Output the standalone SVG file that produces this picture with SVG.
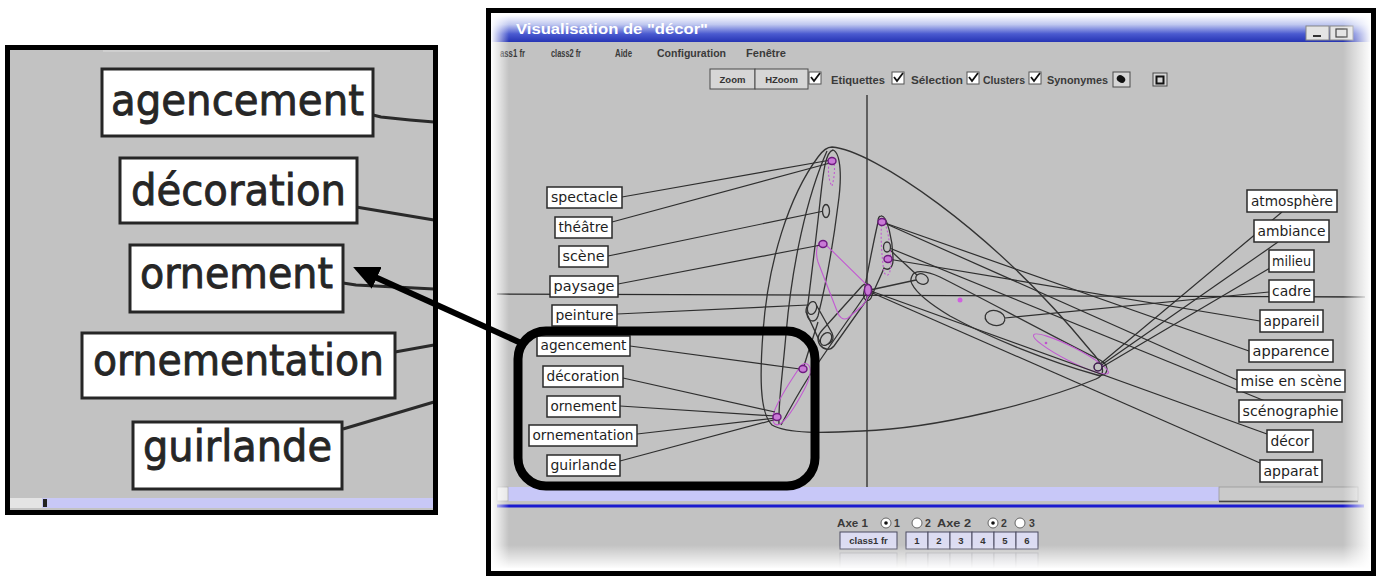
<svg xmlns="http://www.w3.org/2000/svg" width="1381" height="576" viewBox="0 0 1381 576">
<defs>
<style>
.bg{fill:#c2c2c2}
.lb{fill:#fff;stroke:#2a2a2a;stroke-width:1.5}
.lt{font-family:"DejaVu Sans","Noto Sans",sans-serif;font-size:13.5px;fill:#1e1e1e;text-anchor:middle}
.cn{stroke:#2e2e2e;stroke-width:1.2;fill:none}
.hl{stroke:#333;stroke-width:1.3;fill:none}
.mg{stroke:#c25ad2;stroke-width:1.1;fill:none}
.mgd{stroke:#c25ad2;stroke-width:1.1;fill:none;stroke-dasharray:2 2}
.nm{fill:#c97ad6;stroke:#6e1a80;stroke-width:1.4}
.nw{fill:#c2c2c2;stroke:#333;stroke-width:1.3}
.ib{fill:#fff;stroke:#262626;stroke-width:3}
.it{font-family:"DejaVu Sans","Noto Sans",sans-serif;font-size:43px;fill:#262626;stroke:#262626;stroke-width:0.9;text-anchor:middle}
.ic{stroke:#2a2a2a;stroke-width:3;fill:none}
.mn{font-family:"Liberation Sans",Arial,sans-serif;font-size:10.5px;font-weight:bold;fill:#3a3a3a}
.tb{fill:#d6d6d6;stroke:#4a4a4a;stroke-width:1}
.bt{font-family:"Liberation Sans",Arial,sans-serif;font-size:9.5px;font-weight:bold;fill:#333;text-anchor:middle}
.ck{fill:#fff;stroke:#555;stroke-width:1}
.cm{fill:none;stroke:#111;stroke-width:1.8}
.nb{fill:#dcdcf2;stroke:#4a4a60;stroke-width:1}
.ax{stroke:#2a2a2a;stroke-width:1.3}
.rd{fill:#fff;stroke:#666;stroke-width:1}
</style>
<linearGradient id="gTitle" x1="0" y1="0" x2="0" y2="1">
<stop offset="0" stop-color="#ffffff"/>
<stop offset="0.35" stop-color="#c0c8f0"/>
<stop offset="0.7" stop-color="#4a5ad0"/>
<stop offset="1" stop-color="#2634b4"/>
</linearGradient>
<linearGradient id="fadeL" x1="0" y1="0" x2="1" y2="0">
<stop offset="0" stop-color="#fff" stop-opacity="1"/>
<stop offset="1" stop-color="#fff" stop-opacity="0"/>
</linearGradient>
<linearGradient id="fadeR" x1="0" y1="0" x2="1" y2="0">
<stop offset="0" stop-color="#fff" stop-opacity="0"/>
<stop offset="1" stop-color="#fff" stop-opacity="1"/>
</linearGradient>
<linearGradient id="fadeB" x1="0" y1="0" x2="0" y2="1">
<stop offset="0" stop-color="#fff" stop-opacity="0"/>
<stop offset="1" stop-color="#fff" stop-opacity="1"/>
</linearGradient>
<marker id="ah" markerUnits="userSpaceOnUse" markerWidth="26" markerHeight="24" viewBox="0 0 26 24" refX="2" refY="12" orient="auto">
<path d="M0,0 L26,12 L0,24 Z" fill="#000"/>
</marker>
</defs>
<rect width="1381" height="576" fill="#fff"/>

<!-- ============ INSET (zoom) ============ -->
<g id="inset">
<rect x="7.5" y="47.5" width="428" height="465" class="bg"/>
<line x1="103" y1="51" x2="330" y2="51" stroke="#cfcfcf" stroke-width="2"/>
<g id="inset-connectors">
<path class="ic" d="M373,115 L381,117 L410,120 L434,122"/>
<path class="ic" d="M356,207 L434,220"/>
<path class="ic" d="M343,283 L356,285 L434,289"/>
<path class="ic" d="M395,352 L434,345"/>
<path class="ic" d="M343,429 L434,402"/>
</g>
<g id="inset-agencement"><rect class="ib" x="102" y="69" width="271" height="67"/><text class="it" x="237.5" y="115" textLength="253" lengthAdjust="spacingAndGlyphs">agencement</text></g>
<g id="inset-decoration"><rect class="ib" x="120" y="158" width="237" height="65"/><text class="it" x="238.5" y="205" textLength="215" lengthAdjust="spacingAndGlyphs">décoration</text></g>
<g id="inset-ornement"><rect class="ib" x="130" y="245" width="213" height="67"/><text class="it" x="236.5" y="288" textLength="193" lengthAdjust="spacingAndGlyphs">ornement</text></g>
<g id="inset-ornementation"><rect class="ib" x="82" y="333" width="313" height="65"/><text class="it" x="238.5" y="375" textLength="291" lengthAdjust="spacingAndGlyphs">ornementation</text></g>
<g id="inset-guirlande"><rect class="ib" x="133" y="422" width="209" height="67"/><text class="it" x="237.5" y="461" textLength="189" lengthAdjust="spacingAndGlyphs">guirlande</text></g>
<rect x="10" y="498" width="426" height="10" fill="#c8c8f6"/>
<rect x="10" y="498" width="32" height="10" fill="#e4e4e4"/>
<rect x="43" y="499" width="4" height="8" fill="#222"/>
<rect x="7.5" y="47.5" width="428" height="465" fill="none" stroke="#000" stroke-width="5"/>
</g>

<!-- ============ WINDOW ============ -->
<g id="window">
<rect x="491" y="42" width="879" height="530" class="bg"/>
<rect x="491" y="15" width="879" height="27" fill="url(#gTitle)"/>
<text x="516" y="34" font-family="Liberation Sans, Arial, sans-serif" font-size="14" font-weight="bold" fill="#fff" textLength="192" lengthAdjust="spacingAndGlyphs">Visualisation de "décor"</text>
<g id="winbtns">
<rect x="1306" y="26" width="23" height="14" fill="#e4e4e4" stroke="#888"/>
<line x1="1313" y1="36" x2="1321" y2="36" stroke="#333" stroke-width="2"/>
<rect x="1330" y="26" width="23" height="14" fill="#e4e4e4" stroke="#888"/>
<rect x="1336" y="29" width="11" height="8" fill="none" stroke="#444" stroke-width="1.2"/>
</g>
<g id="menu">
<text class="mn" x="500" y="57" textLength="25" lengthAdjust="spacingAndGlyphs">ass1 fr</text>
<text class="mn" x="551" y="57" textLength="30" lengthAdjust="spacingAndGlyphs">class2 fr</text>
<text class="mn" x="615" y="57" textLength="17" lengthAdjust="spacingAndGlyphs">Aide</text>
<text class="mn" x="657" y="57" textLength="69" lengthAdjust="spacingAndGlyphs">Configuration</text>
<text class="mn" x="746" y="57" textLength="40" lengthAdjust="spacingAndGlyphs">Fenêtre</text>
</g>
<g id="toolbar">
<rect class="tb" x="710" y="69" width="45" height="20"/>
<text class="bt" x="732.5" y="83">Zoom</text>
<rect class="tb" x="755" y="69" width="53" height="20"/>
<text class="bt" x="781.5" y="83">HZoom</text>
<rect class="ck" x="809" y="72" width="12" height="12"/><path class="cm" d="M811,77 L814,81 L820,73"/>
<text class="mn" x="831" y="84" textLength="54" lengthAdjust="spacingAndGlyphs">Etiquettes</text>
<rect class="ck" x="892" y="72" width="12" height="12"/><path class="cm" d="M894,77 L897,81 L903,73"/>
<text class="mn" x="911" y="84" textLength="52" lengthAdjust="spacingAndGlyphs">Sélection</text>
<rect class="ck" x="967" y="72" width="12" height="12"/><path class="cm" d="M969,77 L972,81 L978,73"/>
<text class="mn" x="983" y="84" textLength="42" lengthAdjust="spacingAndGlyphs">Clusters</text>
<rect class="ck" x="1029" y="72" width="12" height="12"/><path class="cm" d="M1031,77 L1034,81 L1040,73"/>
<text class="mn" x="1047" y="84" textLength="61" lengthAdjust="spacingAndGlyphs">Synonymes</text>
<rect class="tb" x="1113" y="72" width="17" height="15"/>
<ellipse cx="1121" cy="79" rx="4.5" ry="3.5" fill="#111" transform="rotate(35 1121 79)"/>
<rect class="tb" x="1153" y="73" width="14" height="13"/>
<rect x="1156.5" y="76.5" width="7" height="7" fill="none" stroke="#111" stroke-width="2"/>
</g>

<!-- plot axes -->
<g id="axes">
<line class="ax" x1="497" y1="294" x2="1365" y2="297"/>
<line class="ax" x1="867" y1="95" x2="867" y2="487"/>
</g>

<!-- clusters / hulls -->
<g id="clusters">
<path class="hl" d="M832,147 C872,150 990,228 1090,350 C1102,363 1108,374 1096,379 C1040,402 940,428 862,431 C822,433 788,434 772,425 C759,413 760,372 763,332 C768,262 789,196 818,157 C823,150 827,147 832,147 Z"/>
<path class="hl" d="M827,151 C807,196 792,264 786,334 C782,380 778,405 779,424"/>
<path class="hl" d="M833,150 C841,153 842,178 838,205 C833,245 825,288 818,316 C815,324 807,322 807,312 C811,278 816,240 820,202 C823,175 825,152 833,150 Z"/>
<path class="hl" d="M806,312 C806,302 814,300 818,308 L832,333 C836,342 826,348 820,342 Z"/>
<path class="hl" d="M820,345 C815,338 820,332 826,326 L862,286 C867,281 874,286 871,294 L834,346 C830,351 824,350 820,345 Z"/>
<path class="hl" d="M866,294 C858,306 830,345 808,378 C798,394 788,412 781,425"/>
<path class="hl" d="M818,322 C814,335 808,352 804,366"/>
<path class="hl" d="M881,216 C887,215 893,240 893,260 C893,268 888,271 884,268 C880,278 874,290 871,298 C868,303 862,300 864,292 C868,270 874,240 878,222 C878,218 879,216 881,216 Z"/>
<path class="hl" d="M912,276 C914,270 925,270 940,277 C980,297 1050,335 1100,360 C1111,366 1108,378 1097,375 C1050,362 990,338 950,316 C930,304 916,292 912,284 C910,281 911,278 912,276 Z"/>
<path class="hl" d="M870,290 L916,280"/>
<path class="hl" d="M890,250 L918,276"/>
<path class="mgd" d="M831,157 C836,160 835,176 832,186 C828,180 827,166 831,157 Z"/>
<path class="mg" d="M822,241 L867,285 C871,292 868,300 862,306 L848,318 C843,321 839,317 837,311 L818,262 C815,252 817,243 822,241 Z"/>
<path class="mgd" d="M882,220 C888,224 890,245 891,262 C891,274 887,279 884,272 C882,258 880,236 882,220 Z"/>
<path class="mg" d="M807,364 C813,367 810,379 804,390 C796,405 788,419 780,424 C774,427 771,421 774,412 C780,396 792,379 800,367 C802,364 805,363 807,364 Z"/>
<ellipse class="mg" cx="1071" cy="354" rx="42" ry="7" transform="rotate(27 1071 354)"/>
<circle cx="960" cy="300" r="2.5" fill="#d060e0"/>
<circle cx="1046" cy="343" r="1.3" fill="#c050d0"/>
</g>

<!-- connectors -->
<g id="connectors">
<line class="cn" x1="622" y1="197" x2="831" y2="160"/>
<line class="cn" x1="612" y1="222" x2="830" y2="163"/>
<line class="cn" x1="608" y1="256" x2="824" y2="211"/>
<line class="cn" x1="618" y1="284" x2="821" y2="245"/>
<line class="cn" x1="617" y1="314" x2="808" y2="305"/>
<line class="cn" x1="630" y1="346" x2="800" y2="369"/>
<line class="cn" x1="623" y1="378" x2="775" y2="412"/>
<line class="cn" x1="620" y1="406" x2="775" y2="416"/>
<line class="cn" x1="637" y1="434" x2="776" y2="418"/>
<line class="cn" x1="620" y1="461" x2="777" y2="419"/>
<line class="cn" x1="1282" y1="212" x2="1099" y2="365"/>
<line class="cn" x1="1278" y1="242" x2="1100" y2="366"/>
<line class="cn" x1="1270" y1="268" x2="1102" y2="367"/>
<line class="cn" x1="1269" y1="292" x2="1005" y2="318"/>
<line class="cn" x1="1260" y1="321" x2="888" y2="259"/>
<line class="cn" x1="1249" y1="351" x2="882" y2="222"/>
<line class="cn" x1="1237" y1="380" x2="882" y2="222"/>
<line class="cn" x1="1265" y1="401" x2="887" y2="247"/>
<line class="cn" x1="1267" y1="434" x2="868" y2="290"/>
<line class="cn" x1="1260" y1="463" x2="868" y2="291"/>
</g>

<!-- plot points -->
<g id="points">
<g id="p-top"><ellipse class="nm" cx="832" cy="161" rx="4" ry="3.5"/></g>
<g id="p-w1"><ellipse class="nw" cx="826" cy="211" rx="3.5" ry="6.5"/></g>
<g id="p-m2"><ellipse class="nm" cx="823" cy="244" rx="4" ry="3.5"/></g>
<g id="p-w2"><ellipse class="nw" cx="812" cy="308" rx="4.5" ry="6.5" transform="rotate(15 812 308)"/></g>
<g id="p-m3"><ellipse class="nm" cx="868" cy="290" rx="3.5" ry="5.5"/></g>
<g id="p-m4"><ellipse class="nm" cx="882" cy="222" rx="4" ry="3.5"/></g>
<g id="p-w3"><ellipse class="nw" cx="887" cy="247" rx="3.5" ry="5"/></g>
<g id="p-m5"><ellipse class="nm" cx="888" cy="259" rx="4" ry="3.5"/></g>
<g id="p-w4"><ellipse class="nw" cx="922" cy="279" rx="6.5" ry="5" transform="rotate(25 922 279)"/></g>
<g id="p-w5"><ellipse class="nw" cx="995" cy="318" rx="10" ry="7.5" transform="rotate(15 995 318)"/></g>
<g id="p-w6"><ellipse class="nw" cx="826" cy="339" rx="5" ry="7" transform="rotate(35 826 339)"/></g>
<g id="p-m6"><ellipse class="nm" cx="803" cy="369" rx="4" ry="3.5"/></g>
<g id="p-m7"><ellipse class="nm" cx="777" cy="417" rx="4" ry="3.5"/></g>
<g id="p-r"><ellipse cx="1098" cy="367" rx="4" ry="4" fill="#c2c2c2" stroke="#3a1a4a" stroke-width="1.5"/></g>
</g>

<!-- left labels -->
<g id="n-spectacle"><rect class="lb" x="547" y="187" width="75" height="21"/><text class="lt" x="584.5" y="202" textLength="67" lengthAdjust="spacingAndGlyphs">spectacle</text></g>
<g id="n-theatre"><rect class="lb" x="555" y="217" width="57" height="21"/><text class="lt" x="583.5" y="232" textLength="50" lengthAdjust="spacingAndGlyphs">théâtre</text></g>
<g id="n-scene"><rect class="lb" x="559" y="246" width="49" height="21"/><text class="lt" x="583.5" y="261" textLength="42" lengthAdjust="spacingAndGlyphs">scène</text></g>
<g id="n-paysage"><rect class="lb" x="550" y="276" width="68" height="21"/><text class="lt" x="584" y="291" textLength="61" lengthAdjust="spacingAndGlyphs">paysage</text></g>
<g id="n-peinture"><rect class="lb" x="552" y="305" width="65" height="21"/><text class="lt" x="584.5" y="320" textLength="58" lengthAdjust="spacingAndGlyphs">peinture</text></g>
<g id="n-agencement"><rect class="lb" x="537" y="336" width="93" height="20"/><text class="lt" x="583.5" y="350" textLength="86" lengthAdjust="spacingAndGlyphs">agencement</text></g>
<g id="n-decoration"><rect class="lb" x="543" y="366" width="80" height="21"/><text class="lt" x="583" y="381" textLength="73" lengthAdjust="spacingAndGlyphs">décoration</text></g>
<g id="n-ornement"><rect class="lb" x="547" y="396" width="73" height="21"/><text class="lt" x="583.5" y="411" textLength="66" lengthAdjust="spacingAndGlyphs">ornement</text></g>
<g id="n-ornementation"><rect class="lb" x="529" y="425" width="108" height="21"/><text class="lt" x="583" y="440" textLength="101" lengthAdjust="spacingAndGlyphs">ornementation</text></g>
<g id="n-guirlande"><rect class="lb" x="547" y="455" width="73" height="21"/><text class="lt" x="583.5" y="470" textLength="66" lengthAdjust="spacingAndGlyphs">guirlande</text></g>

<!-- right labels -->
<g id="n-atmosphere"><rect class="lb" x="1247" y="190" width="90" height="22"/><text class="lt" x="1292" y="205.5" textLength="82" lengthAdjust="spacingAndGlyphs">atmosphère</text></g>
<g id="n-ambiance"><rect class="lb" x="1254" y="220" width="75" height="22"/><text class="lt" x="1291.5" y="235.5" textLength="68" lengthAdjust="spacingAndGlyphs">ambiance</text></g>
<g id="n-milieu"><rect class="lb" x="1269" y="250" width="45" height="22"/><text class="lt" x="1291.5" y="265.5" textLength="39" lengthAdjust="spacingAndGlyphs">milieu</text></g>
<g id="n-cadre"><rect class="lb" x="1269" y="280" width="45" height="22"/><text class="lt" x="1291.5" y="295.5" textLength="39" lengthAdjust="spacingAndGlyphs">cadre</text></g>
<g id="n-appareil"><rect class="lb" x="1260" y="310" width="63" height="22"/><text class="lt" x="1291.5" y="325.5" textLength="56" lengthAdjust="spacingAndGlyphs">appareil</text></g>
<g id="n-apparence"><rect class="lb" x="1249" y="340" width="84" height="22"/><text class="lt" x="1291" y="355.5" textLength="77" lengthAdjust="spacingAndGlyphs">apparence</text></g>
<g id="n-mise-en-scene"><rect class="lb" x="1237" y="370" width="108" height="22"/><text class="lt" x="1291" y="385.5" textLength="101" lengthAdjust="spacingAndGlyphs">mise en scène</text></g>
<g id="n-scenographie"><rect class="lb" x="1239" y="400" width="103" height="22"/><text class="lt" x="1290.5" y="415.5" textLength="96" lengthAdjust="spacingAndGlyphs">scénographie</text></g>
<g id="n-decor"><rect class="lb" x="1267" y="430" width="46" height="22"/><text class="lt" x="1290" y="445.5" textLength="39" lengthAdjust="spacingAndGlyphs">décor</text></g>
<g id="n-apparat"><rect class="lb" x="1260" y="460" width="62" height="22"/><text class="lt" x="1291" y="475.5" textLength="55" lengthAdjust="spacingAndGlyphs">apparat</text></g>

<!-- scrollbar and bottom panel -->
<g id="scroll">
<rect x="497" y="487" width="722" height="14" fill="#c8c8f8"/>
<rect x="497" y="487" width="11" height="14" fill="#e6e6e6" stroke="#aaa" stroke-width="0.8"/>
<rect x="1219" y="487" width="139" height="14" fill="#cacaca" stroke="#9a9a9a" stroke-width="0.8"/>
<line x1="1219" y1="501.5" x2="1358" y2="501.5" stroke="#444" stroke-width="1.5"/>
<line x1="497" y1="506" x2="1364" y2="506" stroke="#1a1ad0" stroke-width="3"/>
</g>
<g id="axes-select">
<text class="mn" x="837" y="527" font-weight="normal" fill="#222" textLength="31" lengthAdjust="spacingAndGlyphs">Axe 1</text>
<circle class="rd" cx="886" cy="523" r="5"/><circle cx="886" cy="523" r="1.8" fill="#111"/>
<text class="mn" x="894" y="527" font-weight="normal" fill="#222">1</text>
<circle class="rd" cx="917" cy="523" r="5"/>
<text class="mn" x="925" y="527" font-weight="normal" fill="#222">2</text>
<text class="mn" x="937" y="527" font-weight="normal" fill="#222" textLength="34" lengthAdjust="spacingAndGlyphs">Axe 2</text>
<circle class="rd" cx="993" cy="523" r="5"/><circle cx="993" cy="523" r="1.8" fill="#111"/>
<text class="mn" x="1001" y="527" font-weight="normal" fill="#222">2</text>
<circle class="rd" cx="1020" cy="523" r="5"/>
<text class="mn" x="1029" y="527" font-weight="normal" fill="#222">3</text>
</g>
<g id="buttons">
<rect class="nb" x="840" y="532" width="57" height="17"/><text class="bt" x="868.5" y="544" font-weight="normal" fill="#222">class1 fr</text>
<rect class="nb" x="906" y="532" width="22" height="17"/><text class="bt" x="917" y="544">1</text>
<rect class="nb" x="928" y="532" width="22" height="17"/><text class="bt" x="939" y="544">2</text>
<rect class="nb" x="950" y="532" width="22" height="17"/><text class="bt" x="961" y="544">3</text>
<rect class="nb" x="972" y="532" width="22" height="17"/><text class="bt" x="983" y="544">4</text>
<rect class="nb" x="994" y="532" width="22" height="17"/><text class="bt" x="1005" y="544">5</text>
<rect class="nb" x="1016" y="532" width="22" height="17"/><text class="bt" x="1027" y="544">6</text>
</g>
<g id="reflection" opacity="0.25">
<rect class="nb" x="840" y="553" width="57" height="15"/>
<rect class="nb" x="906" y="553" width="22" height="15"/>
<rect class="nb" x="928" y="553" width="22" height="15"/>
<rect class="nb" x="950" y="553" width="22" height="15"/>
<rect class="nb" x="972" y="553" width="22" height="15"/>
<rect class="nb" x="994" y="553" width="22" height="15"/>
<rect class="nb" x="1016" y="553" width="22" height="15"/>
</g>
<g id="fades">
<rect x="491" y="15" width="18" height="557" fill="url(#fadeL)"/>
<rect x="1343" y="15" width="28" height="557" fill="url(#fadeR)"/>
<rect x="491" y="545" width="880" height="24" fill="url(#fadeB)"/>
<rect x="491" y="568" width="880" height="4" fill="#fff"/>
</g>
<rect x="488.5" y="10.5" width="885" height="563" fill="none" stroke="#000" stroke-width="5"/>
</g>

<!-- highlight and arrow -->
<g id="highlight">
<rect x="518" y="331" width="297" height="155" rx="28" ry="28" fill="none" stroke="#000" stroke-width="9"/>
<line x1="521" y1="343" x2="375" y2="277" stroke="#000" stroke-width="6" marker-end="url(#ah)"/>
</g>
</svg>
